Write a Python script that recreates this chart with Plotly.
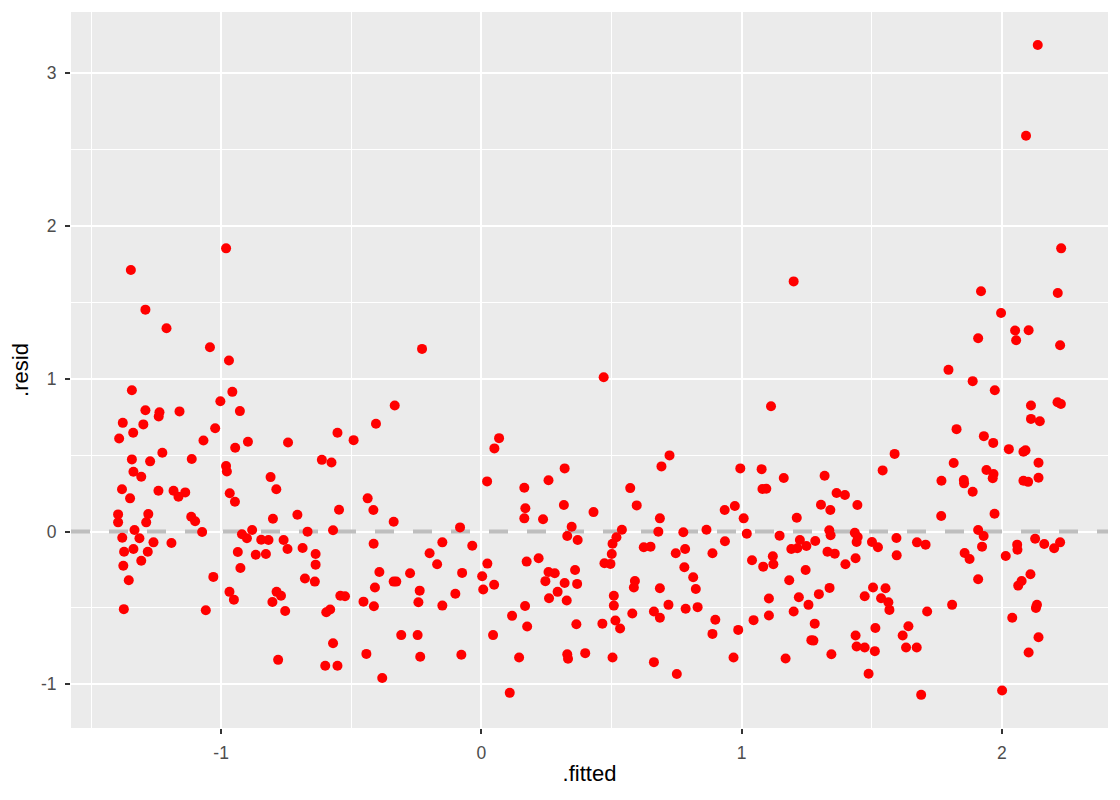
import plotly.graph_objects as go

# fitted values vs residuals
fitted = [
    -0.981, -1.347, -1.291, -1.210, -1.043, -0.970, -1.343, -0.957, -1.003, -1.291,
    -1.237, -1.240, -1.160, -0.928, -1.378, -1.299, -1.023, -1.338, -0.553, -1.392,
    -1.068, -0.897, -0.743, -0.491, -0.946, -1.226, -1.343, -1.273, -1.113, -0.613,
    -0.576, -0.981, -0.978, -1.337, -1.307, -0.810, -1.381, -1.350, -1.241, -1.183,
    -1.164, -1.138, -0.967, -0.947, -0.788, -1.396, -1.396, -1.280, -1.288, -1.115,
    -1.100, -0.801, -0.707, -0.547, -1.333, -1.073, -0.881, -0.668, -0.570, -1.380,
    -1.314, -1.260, -1.191, -0.920, -0.901, -0.846, -0.818, -0.760, -0.745, -0.687,
    -0.637, -1.373, -1.337, -1.282, -0.936, -0.867, -0.828, -1.376, -1.307, -0.926,
    -0.637, -1.355, -1.030, -0.678, -0.640, -0.968, -0.951, -0.787, -0.770, -0.803,
    -0.754, -0.542, -0.524, -1.374, -1.059, -0.596, -0.581, -0.570, -0.781, -0.600,
    -0.553, -0.228, 0.470, -0.333, -0.405, 0.068, 0.050, 0.320, 0.022, 0.258,
    0.165, -0.437, -0.415, 0.169, 0.317, 0.431, -0.337, 0.165, 0.237, -0.082,
    0.347, 0.330, 0.370, -0.414, -0.150, -0.035, -0.199, -0.170, 0.023, 0.174,
    0.220, -0.392, -0.337, -0.327, -0.274, -0.074, 0.003, 0.049, 0.007, 0.258,
    0.282, 0.246, 0.320, 0.360, 0.368, 0.293, 0.260, 0.328, -0.409, -0.237,
    -0.100, -0.453, -0.413, -0.242, -0.150, 0.168, 0.118, 0.176, 0.365, 0.465,
    -0.308, -0.245, 0.045, -0.442, -0.235, -0.077, 0.145, 0.330, 0.333, 0.399,
    -0.381, 0.109, 1.200, 1.113, 0.723, 0.692, 0.995, 1.077, 1.162, 1.319,
    0.572, 1.080, 1.095, 1.365, 1.397, 1.445, 0.597, 0.935, 0.974, 1.305,
    1.341, 0.686, 1.008, 1.212, 0.540, 0.680, 0.776, 0.865, 1.020, 1.146,
    1.337, 1.342, 1.435, 1.442, 0.519, 0.504, 0.501, 0.473, 0.496, 0.624,
    0.650, 0.747, 0.783, 0.888, 0.936, 1.040, 1.083, 1.120, 1.122, 1.191,
    1.224, 1.249, 1.214, 1.283, 1.330, 1.358, 1.399, 1.438, 0.780, 0.814,
    0.824, 0.590, 0.586, 0.686, 0.509, 0.509, 0.719, 0.785, 0.831, 0.580,
    0.663, 0.686, 0.515, 0.533, 0.899, 0.888, 0.987, 1.046, 1.105, 1.105,
    1.183, 1.246, 1.220, 1.257, 1.297, 1.338, 1.200, 1.281, 1.268, 1.276,
    1.438, 1.442, 0.663, 0.751, 0.969, 1.169, 1.345, 0.504, 2.228, 1.920,
    2.215, 1.997, 2.051, 2.103, 2.055, 1.909, 2.224, 1.795, 1.888, 1.973,
    2.112, 2.214, 2.227, 2.112, 2.146, 1.826, 1.931, 1.967, 2.027, 2.083,
    2.091, 1.588, 1.542, 1.815, 2.141, 1.941, 1.968, 1.965, 1.768, 1.854,
    1.855, 2.083, 2.101, 2.141, 1.888, 1.767, 1.972, 1.446, 1.501, 1.524,
    1.595, 1.596, 1.674, 1.707, 1.909, 1.930, 1.924, 1.857, 1.876, 1.909,
    2.015, 2.059, 2.060, 2.128, 2.163, 2.201, 2.224, 2.110, 2.076, 2.063,
    1.505, 1.553, 1.473, 1.536, 1.564, 1.568, 1.713, 1.809, 2.135, 2.131,
    2.040, 1.514, 1.641, 1.619, 1.473, 1.512, 1.632, 1.673, 2.141, 2.103,
    1.488, 1.690, 2.001, 2.138, 2.093,
]
resid = [
    1.853, 1.711, 1.452, 1.330, 1.206, 1.119, 0.925, 0.914, 0.853, 0.794,
    0.781, 0.753, 0.786, 0.788, 0.711, 0.701, 0.676, 0.646, 0.646, 0.609,
    0.596, 0.587, 0.583, 0.598, 0.548, 0.515, 0.472, 0.459, 0.474, 0.469,
    0.452, 0.428, 0.393, 0.391, 0.358, 0.356, 0.276, 0.217, 0.267, 0.267,
    0.227, 0.256, 0.250, 0.195, 0.276, 0.112, 0.060, 0.114, 0.060, 0.097,
    0.067, 0.084, 0.110, 0.142, 0.010, -0.003, 0.010, -0.001, 0.008, -0.041,
    -0.044, -0.071, -0.075, -0.018, -0.044, -0.054, -0.056, -0.056, -0.114, -0.108,
    -0.147, -0.132, -0.114, -0.132, -0.134, -0.152, -0.147, -0.224, -0.191, -0.239,
    -0.217, -0.319, -0.297, -0.308, -0.328, -0.395, -0.446, -0.395, -0.420, -0.461,
    -0.520, -0.420, -0.424, -0.508, -0.515, -0.528, -0.511, -0.731, -0.840, -0.879,
    -0.879, 1.195, 1.010, 0.825, 0.705, 0.611, 0.544, 0.413, 0.328, 0.335,
    0.286, 0.217, 0.141, 0.152, 0.173, 0.127, 0.064, 0.086, 0.080, 0.027,
    0.031, -0.029, -0.056, -0.080, -0.071, -0.093, -0.142, -0.214, -0.210, -0.197,
    -0.175, -0.265, -0.328, -0.328, -0.273, -0.271, -0.293, -0.348, -0.380, -0.265,
    -0.273, -0.325, -0.337, -0.252, -0.343, -0.395, -0.437, -0.452, -0.367, -0.387,
    -0.407, -0.459, -0.489, -0.463, -0.485, -0.487, -0.552, -0.622, -0.607, -0.603,
    -0.678, -0.678, -0.678, -0.801, -0.820, -0.807, -0.825, -0.803, -0.833, -0.796,
    -0.959, -1.056, 1.637, 0.820, 0.498, 0.426, 0.413, 0.408, 0.350, 0.365,
    0.284, 0.278, 0.280, 0.252, 0.239, 0.173, 0.171, 0.141, 0.167, 0.175,
    0.141, 0.086, 0.086, 0.090, 0.012, -0.001, -0.005, 0.012, -0.014, -0.027,
    0.008, -0.025, -0.008, -0.069, -0.038, -0.080, -0.147, -0.208, -0.212, -0.103,
    -0.099, -0.142, -0.114, -0.142, -0.064, -0.188, -0.230, -0.162, -0.214, -0.114,
    -0.056, -0.095, -0.110, -0.062, -0.132, -0.145, -0.214, -0.175, -0.234, -0.299,
    -0.376, -0.324, -0.367, -0.371, -0.420, -0.485, -0.480, -0.505, -0.495, -0.537,
    -0.524, -0.565, -0.583, -0.635, -0.578, -0.670, -0.644, -0.580, -0.439, -0.550,
    -0.319, -0.252, -0.430, -0.480, -0.410, -0.369, -0.524, -0.603, -0.711, -0.714,
    -0.681, -0.753, -0.855, -0.933, -0.825, -0.831, -0.803, -0.825, 1.853, 1.572,
    1.561, 1.430, 1.315, 1.317, 1.252, 1.265, 1.219, 1.058, 0.984, 0.925,
    0.825, 0.846, 0.835, 0.737, 0.722, 0.670, 0.624, 0.580, 0.539, 0.522,
    0.531, 0.508, 0.400, 0.448, 0.450, 0.402, 0.376, 0.348, 0.332, 0.337,
    0.315, 0.332, 0.325, 0.352, 0.260, 0.101, 0.116, -0.036, -0.069, -0.103,
    -0.042, -0.156, -0.071, -0.086, 0.010, -0.029, -0.099, -0.141, -0.180, -0.312,
    -0.160, -0.086, -0.119, -0.047, -0.082, -0.110, -0.071, -0.280, -0.324, -0.354,
    -0.367, -0.371, -0.424, -0.437, -0.463, -0.513, -0.524, -0.480, -0.480, -0.500,
    -0.565, -0.631, -0.620, -0.681, -0.759, -0.783, -0.759, -0.759, -0.692, -0.792,
    -0.931, -1.069, -1.041, 3.184, 2.590,
]

x_ticks = [-1, 0, 1, 2]
x_labels = ['-1', '0', '1', '2']
y_ticks = [-1, 0, 1, 2, 3]
y_labels = ['-1', '0', '1', '2', '3']

x_range = [-1.577, 2.408]
y_range = [-1.286, 3.40]

fig = go.Figure()

# dashed reference line at zero, drawn first so points sit on top
fig.add_trace(go.Scatter(
    x=x_range,
    y=[0, 0],
    mode='lines',
    line=dict(color='#BEBEBE', width=3.8, dash='19px,19px'),
    hoverinfo='skip',
    showlegend=False,
))

fig.add_trace(go.Scatter(
    x=fitted,
    y=resid,
    mode='markers',
    marker=dict(color='#FF0000', size=10, line=dict(width=0)),
    showlegend=False,
))

font_family = 'Liberation Sans, Arial'

axis_style = dict(
    showgrid=True,
    gridcolor='white',
    gridwidth=2,
    zeroline=False,
    showline=False,
    ticks='outside',
    ticklen=5,
    tickwidth=1.8,
    tickcolor='#333333',
    tickfont=dict(family=font_family, size=17.5, color='#4D4D4D'),
)

fig.update_layout(
    width=1112,
    height=792,
    margin=dict(l=63, r=12, t=4, b=72),
    plot_bgcolor='#EBEBEB',
    paper_bgcolor='white',
    xaxis=dict(
        axis_style,
        range=x_range,
        tickvals=x_ticks,
        ticktext=x_labels,
        ticklabelstandoff=4,
        minor=dict(tickvals=[-1.5, -0.5, 0.5, 1.5], showgrid=True, gridcolor='white', gridwidth=1, ticks=''),
        title=dict(text='.fitted', font=dict(family=font_family, size=22, color='black'), standoff=3),
    ),
    yaxis=dict(
        axis_style,
        range=y_range,
        tickvals=y_ticks,
        ticktext=y_labels,
        ticklabelstandoff=5,
        minor=dict(tickvals=[-0.5, 0.5, 1.5, 2.5], showgrid=True, gridcolor='white', gridwidth=1, ticks=''),
        title=dict(text='.resid', font=dict(family=font_family, size=22, color='black'), standoff=8),
    ),
)

fig.write_html("out.html")
